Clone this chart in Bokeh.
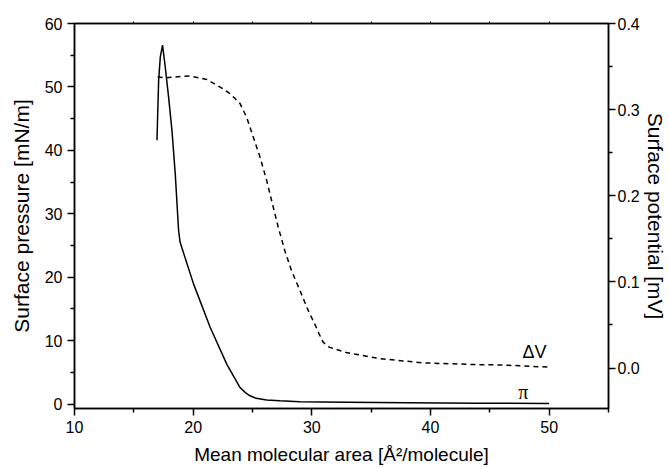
from bokeh.plotting import figure
from bokeh.models import LinearAxis, Range1d, FixedTicker, PrintfTickFormatter, Label
from bokeh.embed import file_html
from bokeh.resources import INLINE

# Surface pressure isotherm (pi)
area_pi = [16.95, 17.09, 17.23, 17.42, 17.65, 17.93, 18.21, 18.49, 18.77, 18.9,
           20.03, 21.43, 22.83, 23.95, 24.4, 24.79, 25.3, 26.19, 27.3, 29.0, 33.0, 38.0, 44.0, 50.0]
pressure = [41.6, 51.0, 54.7, 56.6, 53.1, 48.4, 43.2, 36.3, 27.4, 25.5,
            18.95, 12.1, 6.3, 2.6, 1.8, 1.3, 0.9, 0.63, 0.52, 0.36, 0.28, 0.2, 0.12, 0.1]

# Surface potential (delta V)
area_dv = [17.0, 17.65, 18.5, 19.75, 21.15, 22.55, 23.1, 23.95, 24.51, 25.07, 25.63, 26.19,
           26.61, 27.17, 27.73, 28.29, 29.0, 29.7, 30.25, 30.6, 30.95, 31.5, 32.9, 35.7,
           39.35, 43.8, 46.1, 50.0]
potential = [0.338, 0.337, 0.338, 0.339, 0.335, 0.324, 0.3186, 0.307, 0.291, 0.268, 0.245, 0.218,
             0.1945, 0.1635, 0.136, 0.113, 0.090, 0.0666, 0.051, 0.040, 0.030, 0.024, 0.018, 0.011,
             0.006, 0.004, 0.0035, 0.001]

x_ticks = [10, 20, 30, 40, 50]
x_minor = [15, 25, 35, 45, 55]
y_ticks = [0, 10, 20, 30, 40, 50, 60]
y_minor = [5, 15, 25, 35, 45, 55]
r_ticks = [0.0, 0.1, 0.2, 0.3, 0.4]
r_minor = [0.05, 0.15, 0.25, 0.35]

FONT = "Liberation Sans"

p = figure(width=669, height=468, output_backend="svg", toolbar_location=None,
           x_range=Range1d(10, 55), y_range=Range1d(-0.7, 60),
           min_border_left=74, min_border_right=60, min_border_top=23, min_border_bottom=60)
p.extra_y_ranges = {"pot": Range1d(-0.047, 0.4)}
p.xgrid.visible = False
p.ygrid.visible = False
p.outline_line_color = "black"
p.outline_line_width = 1.5
p.background_fill_color = "white"
p.border_fill_color = "white"


def style(ax, size="16px"):
    ax.axis_line_width = 1.5
    ax.axis_line_color = "black"
    ax.major_tick_line_color = "black"
    ax.minor_tick_line_color = "black"
    ax.major_tick_line_width = 1.5
    ax.minor_tick_line_width = 1.5
    ax.major_tick_out = 7
    ax.major_tick_in = 0
    ax.minor_tick_out = 4
    ax.minor_tick_in = 0
    ax.major_label_text_font = FONT
    ax.major_label_text_font_size = size
    ax.major_label_text_color = "black"
    ax.axis_label_text_font = FONT
    ax.axis_label_text_font_style = "normal"
    ax.axis_label_text_color = "black"


xa = p.xaxis[0]
style(xa)
xa.ticker = FixedTicker(ticks=x_ticks, minor_ticks=x_minor)
xa.axis_label = "Mean molecular area [Å²/molecule]"
xa.axis_label_text_font_size = "19px"
xa.major_label_standoff = 5
xa.axis_label_standoff = 8

ya = p.yaxis[0]
style(ya)
ya.ticker = FixedTicker(ticks=y_ticks, minor_ticks=y_minor)
ya.axis_label = "Surface pressure [mN/m]"
ya.axis_label_text_font_size = "21px"
ya.major_label_standoff = 5
ya.axis_label_standoff = 9

ra = LinearAxis(y_range_name="pot")
style(ra)
ra.ticker = FixedTicker(ticks=r_ticks, minor_ticks=r_minor)
ra.formatter = PrintfTickFormatter(format="%.1f")
ra.axis_label = "Surface potential [mV]"
ra.axis_label_text_font_size = "21px"
ra.major_label_standoff = 2
ra.axis_label_standoff = 1
p.add_layout(ra, "right")

ta = LinearAxis()
ta.ticker = FixedTicker(ticks=[15, 20, 25, 30, 35, 40, 45, 50], minor_ticks=[])
ta.major_label_text_font_size = "0px"
ta.major_label_text_alpha = 0
ta.axis_line_width = 1.5
ta.major_tick_out = 2
ta.major_tick_in = 0
ta.major_tick_line_width = 1
ta.minor_tick_out = 0
ta.major_label_standoff = 0
p.add_layout(ta, "above")

p.line(area_pi, pressure, line_color="black", line_width=1.5)
p.line(area_dv, potential, line_color="black", line_width=1.5, line_dash="5 4", y_range_name="pot")

p.add_layout(Label(x=47.75, y=0.0075, y_range_name="pot", text="ΔV", text_font=FONT,
                   text_font_size="18px", text_color="black"))
p.add_layout(Label(x=47.4, y=0.2, text="π", text_font="Liberation Serif",
                   text_font_size="20px", text_color="black"))

open("out.html", "w").write(file_html(p, INLINE))
